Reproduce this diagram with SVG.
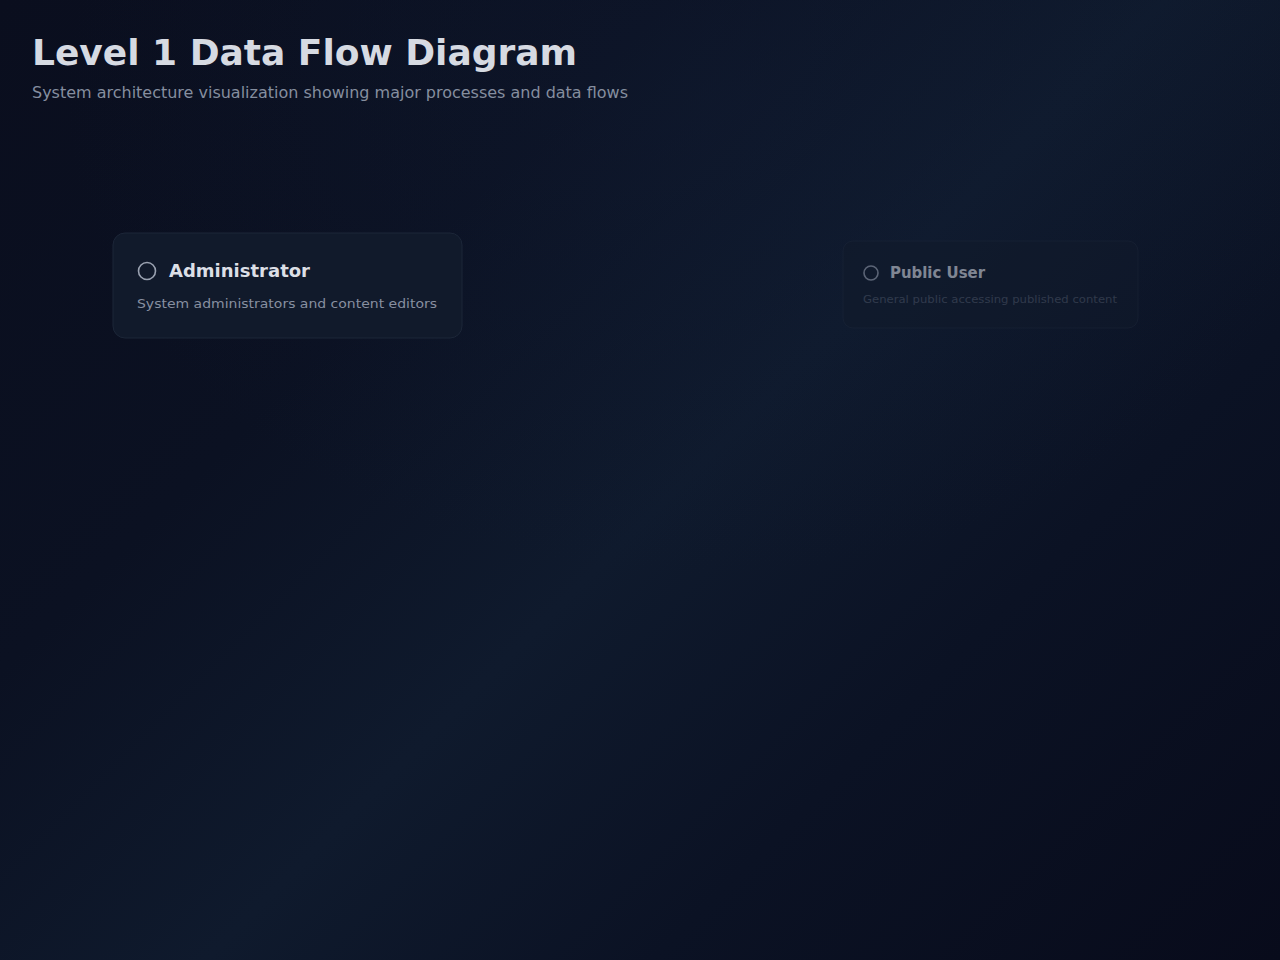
<svg xmlns="http://www.w3.org/2000/svg" width="1280" height="960" viewBox="0 0 1280 960">
  <defs>
    <linearGradient id="bg" gradientUnits="userSpaceOnUse" x1="0" y1="0" x2="1120" y2="1120">
      <stop offset="0" stop-color="#0a0e1e"/>
      <stop offset="0.3" stop-color="#0b1122"/>
      <stop offset="0.52" stop-color="#0f1a2d"/>
      <stop offset="0.72" stop-color="#0b1224"/>
      <stop offset="1" stop-color="#080b1b"/>
    </linearGradient>
    <radialGradient id="glow" cx="0.55" cy="0.1" r="0.5">
      <stop offset="0" stop-color="#13203a" stop-opacity="0.3"/>
      <stop offset="1" stop-color="#13203a" stop-opacity="0"/>
    </radialGradient>
  </defs>
  <style>
    .title { font-family: "DejaVu Sans", sans-serif; font-weight: bold; font-size: 36px; fill: #d6dae2; }
    .subtitle { font-family: "DejaVu Sans", sans-serif; font-size: 16px; fill: #858e9f; }
    .card { fill: #111a2b; stroke: #1c2638; stroke-width: 1; }
    .icon { fill: none; stroke: #9aa2b1; stroke-width: 1.6; }
    .ntitle { font-family: "DejaVu Sans", sans-serif; font-weight: bold; fill: #dcdfe6; }
    .ndesc { font-family: "DejaVu Sans", sans-serif; fill: #878fa0; }
  </style>
  <rect x="0" y="0" width="1280" height="960" fill="url(#bg)"/>
  <rect x="0" y="0" width="1280" height="960" fill="url(#glow)"/>

  <g id="header">
    <text class="title" x="32" y="65" textLength="545" lengthAdjust="spacingAndGlyphs">Level 1 Data Flow Diagram</text>
    <text class="subtitle" x="32" y="98" textLength="596" lengthAdjust="spacingAndGlyphs">System architecture visualization showing major processes and data flows</text>
  </g>

  <g id="connectors"></g>

  <g id="node-administrator">
    <rect class="card" x="113" y="233" width="349" height="105" rx="12"/>
    <circle class="icon" cx="147" cy="271" r="8.5"/>
    <text class="ntitle" x="169" y="277" font-size="18" textLength="141" lengthAdjust="spacingAndGlyphs">Administrator</text>
    <text class="ndesc" x="137" y="308" font-size="13" textLength="300" lengthAdjust="spacingAndGlyphs">System administrators and content editors</text>
  </g>

  <g id="node-public-user" opacity="0.55">
    <rect class="card" x="843" y="241" width="295" height="87" rx="10"/>
    <circle class="icon" cx="871" cy="273" r="7" stroke-width="1.3"/>
    <text class="ntitle" x="890" y="278" font-size="16" textLength="95" lengthAdjust="spacingAndGlyphs">Public User</text>
    <text class="ndesc" x="863" y="303" font-size="11" opacity="0.5" textLength="254" lengthAdjust="spacingAndGlyphs">General public accessing published content</text>
  </g>
</svg>
